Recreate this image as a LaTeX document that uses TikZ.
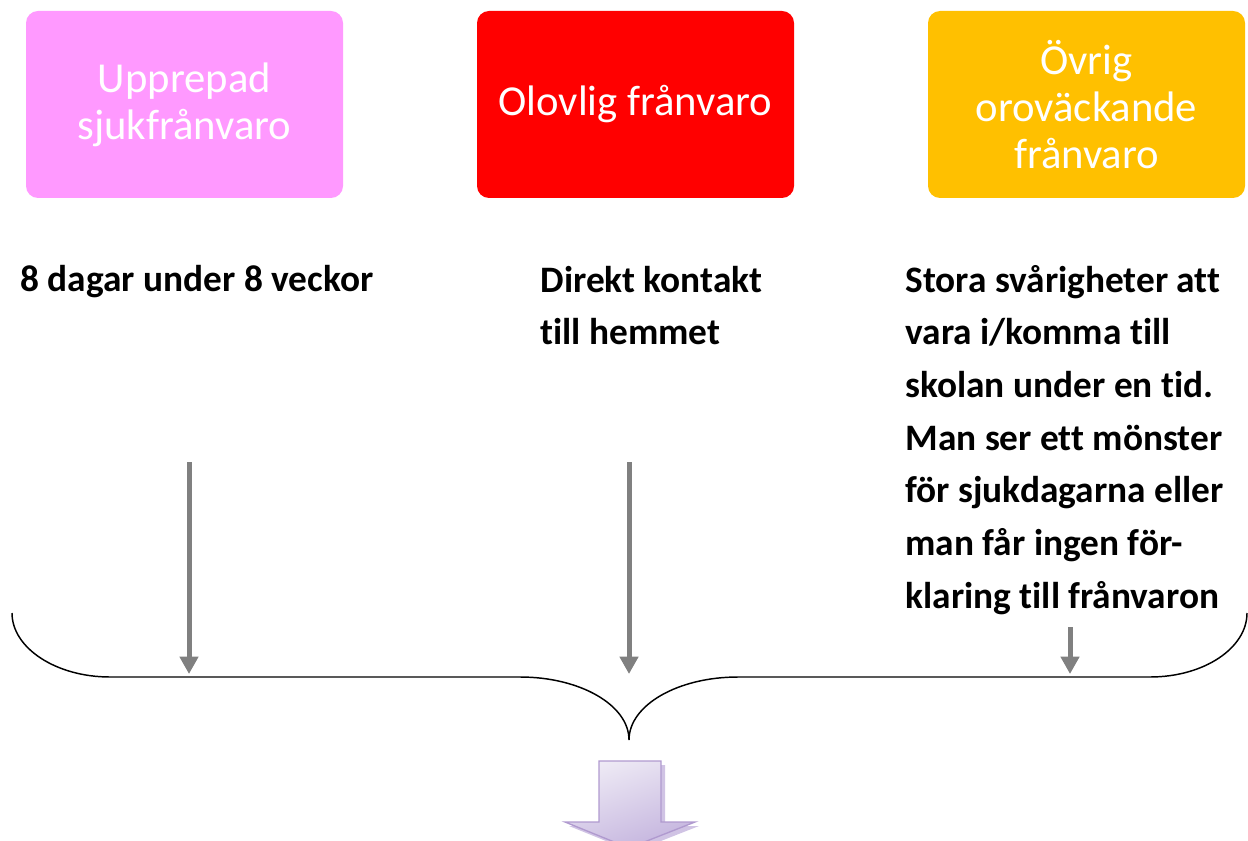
\documentclass[tikz,border=0pt]{standalone}
\usepackage{fontspec}
\setmainfont[Ligatures=NoCommon]{Carlito}
\usetikzlibrary{arrows.meta}

\definecolor{pinkfill}{RGB}{255,153,255}
\definecolor{redfill}{RGB}{255,0,0}
\definecolor{orangefill}{RGB}{255,192,0}
\definecolor{arrowgray}{RGB}{128,128,128}
\definecolor{lavlight}{RGB}{238,234,245}
\definecolor{lavdark}{RGB}{196,180,222}
\definecolor{lavedge}{RGB}{176,154,207}

\tikzset{every picture/.style={line width=0.75pt}}
\tikzset{
  catbox/.style={rounded corners=9pt, minimum width=237.75pt, minimum height=140.25pt,
    text=white, align=center, font=\fontsize{32}{35.25}\selectfont, inner sep=0pt},
  infotext/.style={anchor=base west, align=left, inner sep=0pt,
    font=\fontsize{28}{39.5}\selectfont\bfseries},
  grayarrow/.style={draw=arrowgray, line width=3.75pt, -{Triangle[width=13.5pt,length=13pt]}}
}

\begin{document}
\begin{tikzpicture}[x=0.75pt,y=0.75pt,yscale=-1,xscale=1]
\useasboundingbox (0,0) rectangle (1248,841);

%Shape: Rounded Rectangle [id:upprepad]
\node [catbox, fill=pinkfill] (upprepad) at (184.5,104.5) {Upprepad\\sjukfrånvaro};
%Shape: Rounded Rectangle [id:olovlig]
\node [catbox, fill=redfill] (olovlig) at (635.5,104.5) {Olovlig frånvaro};
%Shape: Rounded Rectangle [id:ovrig]
\node [catbox, fill=orangefill] (ovrig) at (1086.5,104.5) {Övrig\\oroväckande\\frånvaro};

% Text Node (placed at baseline of last line)
\node [infotext] (dagar) at (20,292) {8 dagar under 8 veckor};
% Text Node
\node [infotext] (kontakt) at (540,344.7) {Direkt kontakt\\till hemmet};
% Text Node
\node [infotext] (svarigheter) at (905,608) {Stora svårigheter att\\vara i/komma till\\skolan under en tid.\\Man ser ett mönster\\för sjukdagarna eller\\man får ingen för-\\klaring till frånvaron};

%Curve Lines [id:brace]
\draw [line width=1.1pt] (12,613) .. controls (12,648) and (56,677) .. (110,677) -- (520,677)
  .. controls (580,677) and (629,705) .. (629,740)
  .. controls (629,705) and (678,677) .. (738,677) -- (1150,677)
  .. controls (1204,677) and (1247,648) .. (1247,613);

%Straight Lines [id:arrows]
\coordinate (start1) at (189,462);
\coordinate (end1) at (189,674);
\coordinate (start2) at (629,462);
\coordinate (end2) at (629,674);
\coordinate (start3) at (1070,627);
\coordinate (end3) at (1070,674);
\draw [grayarrow] (start1) -- (end1);
\draw [grayarrow] (start2) -- (end2);
\draw [grayarrow] (start3) -- (end3);

%Shape: Down Arrow [id:blockarrow]
\fill [lavdark!80] (603,765) -- (665,765) -- (665,826) -- (699,826) -- (633,852) -- (569,826) -- (603,826) -- cycle;
\draw [draw=lavedge, line width=1pt, top color=lavlight, bottom color=lavdark, shading angle=20]
  (599,761) -- (661,761) -- (661,822) -- (695,822) -- (629,848) -- (565,822) -- (599,822) -- cycle;

\end{tikzpicture}
\end{document}
